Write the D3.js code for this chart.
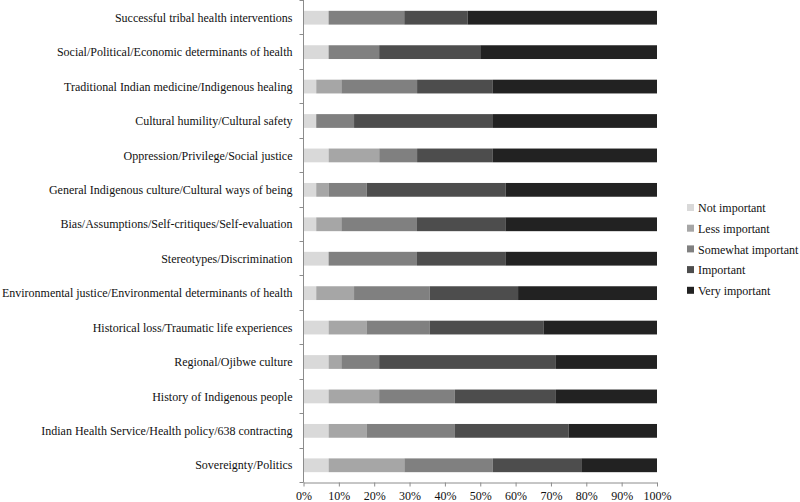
<!DOCTYPE html>
<html><head><meta charset="utf-8">
<script src="https://cdn.jsdelivr.net/npm/d3@7"></script>
<style>body{margin:0;background:#fff}svg{display:block}</style>
</head><body>
<svg id="c" width="800" height="502"></svg>
<script>
const categories = [
  "Successful tribal health interventions",
  "Social/Political/Economic determinants of health",
  "Traditional Indian medicine/Indigenous healing",
  "Cultural humility/Cultural safety",
  "Oppression/Privilege/Social justice",
  "General Indigenous culture/Cultural ways of being",
  "Bias/Assumptions/Self-critiques/Self-evaluation",
  "Stereotypes/Discrimination",
  "Environmental justice/Environmental determinants of health",
  "Historical loss/Traumatic life experiences",
  "Regional/Ojibwe culture",
  "History of Indigenous people",
  "Indian Health Service/Health policy/638 contracting",
  "Sovereignty/Politics"
];
const seriesNames = ["Not important","Less important","Somewhat important","Important","Very important"];
const notImportant      = [7.1, 7.1, 3.6, 3.6, 7.1, 3.6, 3.6, 7.1, 3.6, 7.1, 7.1, 7.1, 7.1, 7.1];
const lessImportant     = [0,   0,   7.1, 0,   14.3,3.6, 7.1, 0,  10.7,10.7, 3.6,14.3,10.7,21.4];
const somewhatImportant = [21.4,14.3,21.4,10.7,10.7,10.7,21.4,25, 21.4,17.9,10.7,21.4,25, 25];
const important         = [17.9,28.6,21.4,39.3,21.4,39.3,25, 25,  25, 32.1,50, 28.6,32.1,25];
const veryImportant     = [53.6,50, 46.4,46.4,46.4,42.9,42.9,42.9,39.3,32.1,28.6,28.6,25, 21.4];
const xTicks = [0,10,20,30,40,50,60,70,80,90,100];
const colors = ["#d9d9d9","#a6a6a6","#808080","#4d4d4d","#222222"];

const seriesValues = [notImportant, lessImportant, somewhatImportant, important, veryImportant];
const rows = categories.map((c,i)=>{
  const o = {cat:c};
  seriesNames.forEach((s,j)=>o[s]=seriesValues[j][i]);
  return o;
});
const stack = d3.stack().keys(seriesNames).offset(d3.stackOffsetExpand)(rows);

const svg = d3.select("#c");
const font = "'Liberation Serif','Times New Roman',serif";
const fs = 12;
const x = d3.scaleLinear().domain([0,1]).range([303.5,657]);
const y = d3.scaleBand().domain(categories).range([0.5,482.5]).paddingInner(0.6).paddingOuter(0.3);

svg.append("g").selectAll("g").data(stack).join("g")
  .attr("fill",(d,i)=>colors[i])
  .selectAll("rect").data(d=>d).join("rect")
  .attr("x",d=>x(d[0])).attr("width",d=>x(d[1])-x(d[0]))
  .attr("y",d=>y(d.data.cat)).attr("height",y.bandwidth());

// y axis
const yAxisG = svg.append("g").attr("transform","translate(303.5,0)");
yAxisG.append("line").attr("y1",0).attr("y2",482.5).attr("stroke","#8c8c8c");
d3.range(15).forEach(i=>{
  const yy = Math.round(i*482/14)+0.5;
  yAxisG.append("line").attr("x1",-4).attr("x2",0).attr("y1",yy).attr("y2",yy).attr("stroke","#8c8c8c");
});
yAxisG.selectAll("text").data(categories).join("text")
  .attr("x",-11).attr("y",d=>y(d)+y.bandwidth()/2).attr("dy","0.35em")
  .attr("text-anchor","end").attr("font-family",font).attr("font-size",fs).attr("fill","#111")
  .text(d=>d);

// x axis
const xAxis = d3.axisBottom(x).tickValues(xTicks.map(v=>v/100)).tickFormat((d,i)=>xTicks[i]+"%").tickSize(4).tickSizeOuter(0);
const xg = svg.append("g").attr("transform","translate(0,482.5)").call(xAxis);
xg.select(".domain").attr("stroke","#8c8c8c");
xg.selectAll(".tick line").attr("stroke","#8c8c8c");
xg.selectAll(".tick text").attr("font-family",font).attr("font-size",fs).attr("fill","#111").attr("dy","0.85em");

// legend
const lg = svg.append("g").attr("transform","translate(687,208)");
seriesNames.forEach((s,i)=>{
  const g = lg.append("g").attr("transform",`translate(0,${i*20.7})`);
  g.append("rect").attr("x",0).attr("y",-4).attr("width",7).attr("height",7).attr("fill",colors[i]);
  g.append("text").attr("x",11).attr("y",0).attr("dy","0.35em")
    .attr("font-family",font).attr("font-size",fs).attr("fill","#111").text(s);
});
</script>
</body></html>
